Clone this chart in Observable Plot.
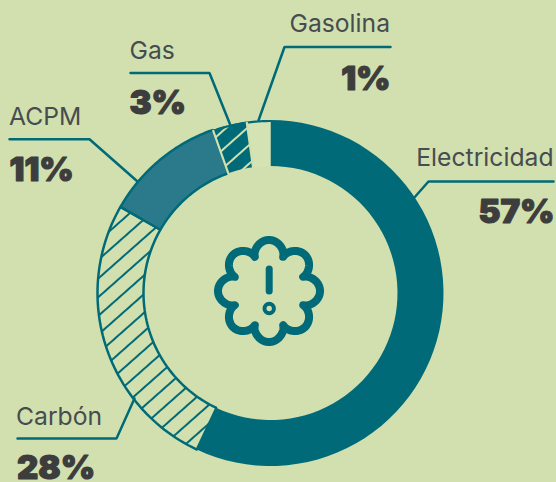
<!DOCTYPE html>
<html><head><meta charset="utf-8">
<script src="https://cdn.jsdelivr.net/npm/d3@7"></script>
<script src="https://cdn.jsdelivr.net/npm/@observablehq/plot@0.6"></script>
<style>html,body{margin:0;padding:0;background:#d1e0ae;overflow:hidden}svg{display:block}</style>
</head><body><div id="chart"></div>
<script>
// data
const categories = ["Electricidad", "Carbón", "ACPM", "Gas", "Gasolina"];
const printedLabels = ["57%", "28%", "11%", "3%", "1%"];
const drawnShares = [57, 26.3, 11.3, 3.2, 2.2]; // slice sizes

// styles
const teal = "#006a78", paper = "#d1e0ae", ink = "#3d3d3d", labelInk = "#474c50";
const sliceFill = ["#006a78", "url(#hatchCarbon)", "#2b7a8c", "url(#hatchGas)", "#d4e3b4"];
const sliceStroke = ["none", teal, teal, "none", "none"];

// layout (pixels, used as plot coordinates)
const cx = 270, cy = 292.5, R = 173, r = 127;
const annotations = [
  {name: 0, anchor: "end",   tx: 553, ty: 165, vx: 554, vy: 222, path: [[553,181],[428,181],[413,198]]},
  {name: 1, anchor: "start", tx: 15.5, ty: 424, vx: 16.5, vy: 478, path: [[17,438],[116,438],[134,398]]},
  {name: 2, anchor: "start", tx: 8.5, ty: 124, vx: 9, vy: 180, path: [[9,138.7],[89,138.7],[137,181]]},
  {name: 3, anchor: "start", tx: 129, ty: 58,  vx: 129, vy: 113, path: [[130,72.5],[209,72.5],[230,125]]},
  {name: 4, anchor: "end",   tx: 389.5, ty: 31, vx: 390, vy: 89,  path: [[390,46.5],[284,46.5],[258,120]]}
];

const polar = (turn, rad) => [cx + rad * Math.sin(turn * 2 * Math.PI), cy - rad * Math.cos(turn * 2 * Math.PI)];
const total = d3.sum(drawnShares);
const ends = d3.cumsum(drawnShares).map(v => v / total);
function ring(i) {
  const a0 = i ? ends[i - 1] : 0, a1 = ends[i];
  const ts = d3.range(0, 61).map(k => a0 + (a1 - a0) * k / 60);
  return [...ts.map(t => polar(t, R)), ...ts.reverse().map(t => polar(t, r)), polar(a0, R)];
}
function rim(i) {
  const a0 = ends[i - 1], a1 = ends[i];
  return d3.range(0, 21).map(k => polar(a0 + (a1 - a0) * k / 20, R - 1));
}
// icon outline: eight lobes with sharp notches between them
const cusp = 37, tip = 51, ic = [268.5, 290.5];
const lobes = d3.range(0, 481).map(k => {
  const t = k / 480;
  const rad = cusp + (tip - cusp) * Math.pow(Math.abs(Math.cos(8 * Math.PI * t)), 0.65);
  return [ic[0] + rad * Math.sin(2 * Math.PI * t), ic[1] - rad * Math.cos(2 * Math.PI * t)];
});

const defs = () => {
  const g = d3.create("svg:defs");
  g.html(`<pattern id="hatchCarbon" patternUnits="userSpaceOnUse" width="14" height="14" patternTransform="rotate(-41.5)">
      <rect width="14" height="14" fill="${paper}"/><line x1="0" x2="14" y1="7" y2="7" stroke="${teal}" stroke-width="2"/></pattern>
    <pattern id="hatchGas" patternUnits="userSpaceOnUse" width="14" height="14" patternTransform="rotate(-41.5)">
      <rect width="14" height="14" fill="${teal}"/><line x1="0" x2="14" y1="7" y2="7" stroke="${paper}" stroke-width="2"/></pattern>`);
  return g.node();
};

const pts = {x: d => d[0], y: d => d[1]};
const plot = Plot.plot({
  width: 556, height: 482, margin: 0,
  style: {background: paper},
  x: {domain: [0, 556], range: [0, 556], axis: null},
  y: {domain: [0, 482], range: [0, 482], axis: null},
  marks: [
    defs,
    ...categories.map((c, i) => Plot.line(ring(i), {...pts, fill: sliceFill[i], stroke: sliceStroke[i], strokeWidth: 2.5, strokeLinejoin: "miter", curve: "linear"})),
    // teal rim over the two smallest slices
    ...[3, 4].map(i => Plot.line(rim(i), {...pts, stroke: teal, strokeWidth: 2.2})),
    // light separators around the small slices
    ...[2, 3].map(i => Plot.line([polar(ends[i], r - 1), polar(ends[i], R - 1)], {...pts, stroke: paper, strokeWidth: 2.2})),
    ...annotations.map(a => Plot.line(a.path, {...pts, stroke: teal, strokeWidth: 2.5, strokeLinejoin: "miter"})),
    ...["start", "end"].flatMap(anchor => [
      Plot.text(annotations, {x: "tx", y: "ty", text: a => categories[a.name], textAnchor: anchor, lineAnchor: "bottom",
        filter: a => a.anchor === anchor, fontFamily: "Inter", fontSize: 24.7, fontWeight: 400, fill: labelInk}),
      Plot.text(annotations, {x: "vx", y: "vy", text: a => printedLabels[a.name], textAnchor: anchor, lineAnchor: "bottom",
        filter: a => a.anchor === anchor, fontFamily: "Inter", fontSize: 33, fontWeight: 900, fill: ink,
        stroke: ink, strokeWidth: 1.2, strokeLinejoin: "round"})
    ]),
    Plot.line(lobes, {...pts, stroke: teal, strokeWidth: 8, strokeLinejoin: "round"}),
    Plot.line([[268.7, 268.5], [268.7, 290.5]], {...pts, stroke: teal, strokeWidth: 7, strokeLinecap: "round"}),
    Plot.dot([[268.7, 308]], {...pts, r: 4.7, stroke: teal, strokeWidth: 4, fill: "none"})
  ]
});
document.getElementById("chart").append(plot);
</script></body></html>
